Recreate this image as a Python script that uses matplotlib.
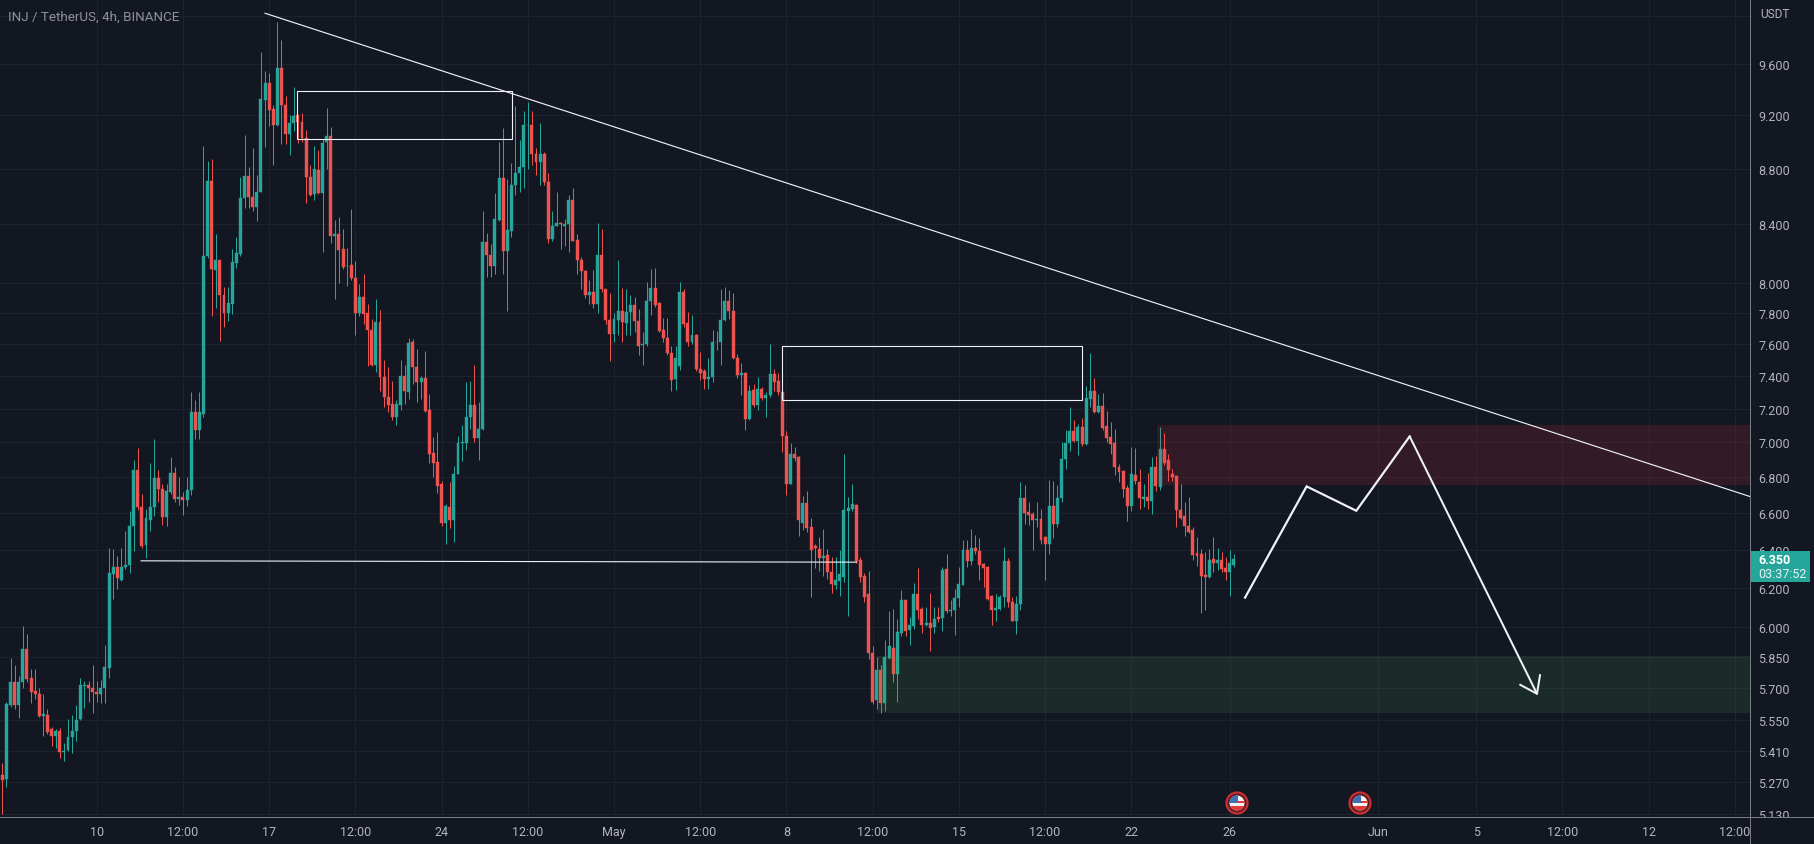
import numpy as np
import matplotlib
matplotlib.use("Agg")
import matplotlib.pyplot as plt
from matplotlib.patches import Rectangle, Circle
from matplotlib.transforms import Bbox

# --------------------------
# Candles, 4h bars
# --------------------------

opens = [
    5.30, 5.285, 5.62, 5.73, 5.62, 5.73, 5.89, 5.75, 5.685, 5.67,
    5.57, 5.575, 5.51, 5.478, 5.50, 5.405, 5.413, 5.47, 5.50, 5.553,
    5.71, 5.715, 5.70, 5.68, 5.67, 5.70, 5.795, 6.27, 6.31, 6.24,
    6.305, 6.32, 6.53, 6.84, 6.63, 6.425, 6.56, 6.63, 6.795, 6.73,
    6.575, 6.715, 6.825, 6.675, 6.69, 6.67, 6.725, 7.18, 7.07, 7.17,
    8.18, 8.71, 8.085, 8.15, 7.92, 7.80, 7.86, 8.135, 8.195, 8.585,
    8.745, 8.59, 8.525, 8.63, 9.32, 9.45, 9.25, 9.13, 9.57, 9.28,
    9.06, 9.14, 9.20, 9.15, 9.03, 8.74, 8.615, 8.79, 8.62, 9.00,
    9.04, 8.32, 8.335, 8.225, 8.115, 8.12, 8.03, 7.80, 7.905, 7.80,
    7.69, 7.465, 7.74, 7.39, 7.27, 7.23, 7.15, 7.225, 7.40, 7.30,
    7.61, 7.455, 7.36, 7.385, 7.19, 6.94, 6.885, 6.76, 6.545, 6.63,
    6.56, 6.82, 6.995, 6.995, 7.15, 7.225, 7.025, 7.08, 8.275, 8.19,
    8.115, 8.43, 8.73, 8.215, 8.355, 8.68, 8.77, 8.81, 9.125, 9.13,
    8.91, 8.85, 8.905, 8.70, 8.30, 8.39, 8.41, 8.39, 8.405, 8.575,
    8.29, 8.155, 8.08, 7.915, 7.94, 7.855, 8.185, 7.96, 7.755, 7.665,
    7.755, 7.815, 7.735, 7.805, 7.85, 7.75, 7.595, 7.60, 7.88, 7.965,
    7.865, 7.69, 7.64, 7.545, 7.38, 7.46, 7.94, 7.735, 7.61, 7.66,
    7.445, 7.43, 7.38, 7.39, 7.61, 7.61, 7.755, 7.875, 7.81, 7.51,
    7.405, 7.415, 7.14, 7.315, 7.225, 7.32, 7.265, 7.28, 7.41, 7.37,
    7.30, 7.035, 6.76, 6.935, 6.915, 6.545, 6.655, 6.52, 6.42, 6.405,
    6.355, 6.37, 6.28, 6.215, 6.235, 6.255, 6.61, 6.62, 6.645, 6.345,
    6.26, 6.165, 5.87, 5.645, 5.785, 5.63, 5.845, 5.895, 5.77, 5.97,
    6.135, 5.985, 6.005, 6.165, 6.09, 6.01, 6.02, 5.998, 6.05, 6.045,
    6.295, 6.08, 6.085, 6.145, 6.215, 6.40, 6.34, 6.41, 6.39, 6.325,
    6.31, 6.155, 6.085, 6.09, 6.15, 6.34, 6.125, 6.03, 6.115, 6.68,
    6.605, 6.595, 6.56, 6.565, 6.465, 6.43, 6.64, 6.54, 6.68, 6.905,
    6.995, 7.065, 7.01, 7.09, 6.99, 7.26, 7.305, 7.18, 7.215, 7.095,
    7.03, 6.995, 6.855, 6.835, 6.74, 6.64, 6.81, 6.77, 6.675, 6.685,
    6.665, 6.855, 6.745, 6.96, 6.895, 6.82, 6.805, 6.615, 6.58, 6.525,
    6.505, 6.38, 6.375, 6.265, 6.255, 6.35, 6.33, 6.345, 6.30, 6.28,
    6.32,
]

closes = [
    5.28, 5.627, 5.73, 5.62, 5.73, 5.89, 5.745, 5.68, 5.67, 5.57,
    5.58, 5.495, 5.475, 5.50, 5.405, 5.41, 5.47, 5.50, 5.55, 5.715,
    5.715, 5.70, 5.68, 5.67, 5.70, 5.80, 6.275, 6.31, 6.25, 6.305,
    6.32, 6.53, 6.84, 6.63, 6.42, 6.57, 6.63, 6.795, 6.73, 6.575,
    6.72, 6.825, 6.675, 6.69, 6.67, 6.725, 7.18, 7.07, 7.18, 8.18,
    8.71, 8.09, 8.15, 7.92, 7.80, 7.865, 8.14, 8.20, 8.585, 8.745,
    8.59, 8.525, 8.63, 9.33, 9.45, 9.24, 9.13, 9.57, 9.28, 9.06,
    9.14, 9.195, 9.15, 9.03, 8.74, 8.61, 8.80, 8.62, 8.99, 9.04,
    8.32, 8.335, 8.22, 8.105, 8.115, 8.03, 7.80, 7.905, 7.795, 7.69,
    7.465, 7.74, 7.39, 7.27, 7.22, 7.15, 7.23, 7.40, 7.305, 7.605,
    7.455, 7.36, 7.385, 7.185, 6.93, 6.88, 6.75, 6.545, 6.635, 6.56,
    6.82, 6.995, 7.0, 7.15, 7.225, 7.025, 7.08, 8.275, 8.19, 8.115,
    8.435, 8.73, 8.215, 8.36, 8.68, 8.77, 8.81, 9.13, 9.13, 8.91,
    8.85, 8.905, 8.70, 8.30, 8.39, 8.41, 8.40, 8.405, 8.575, 8.285,
    8.155, 8.08, 7.915, 7.94, 7.86, 8.185, 7.96, 7.755, 7.665, 7.76,
    7.81, 7.74, 7.805, 7.85, 7.75, 7.59, 7.60, 7.88, 7.965, 7.85,
    7.685, 7.635, 7.54, 7.375, 7.51, 7.94, 7.73, 7.61, 7.655, 7.44,
    7.42, 7.38, 7.39, 7.61, 7.615, 7.755, 7.875, 7.81, 7.51, 7.405,
    7.415, 7.14, 7.31, 7.225, 7.32, 7.265, 7.28, 7.41, 7.365, 7.30,
    7.035, 6.76, 6.935, 6.91, 6.56, 6.655, 6.515, 6.40, 6.41, 6.355,
    6.365, 6.28, 6.22, 6.24, 6.27, 6.615, 6.625, 6.65, 6.34, 6.255,
    6.15, 5.87, 5.635, 5.785, 5.63, 5.85, 5.905, 5.77, 5.975, 6.135,
    5.98, 6.01, 6.165, 6.085, 6.01, 6.02, 5.995, 6.04, 6.04, 6.29,
    6.08, 6.085, 6.145, 6.22, 6.40, 6.34, 6.41, 6.39, 6.32, 6.30,
    6.14, 6.085, 6.095, 6.15, 6.34, 6.125, 6.03, 6.115, 6.68, 6.60,
    6.59, 6.56, 6.565, 6.45, 6.43, 6.64, 6.54, 6.68, 6.905, 6.995,
    7.065, 7.01, 7.09, 6.99, 7.265, 7.305, 7.18, 7.215, 7.085, 7.025,
    6.99, 6.855, 6.83, 6.735, 6.64, 6.82, 6.775, 6.68, 6.685, 6.665,
    6.855, 6.75, 6.96, 6.88, 6.84, 6.80, 6.615, 6.57, 6.525, 6.495,
    6.37, 6.365, 6.26, 6.255, 6.345, 6.33, 6.345, 6.295, 6.28, 6.33,
    6.35,
]

highs = [
    5.355, 5.635, 5.845, 5.81, 5.76, 6.005, 5.965, 5.79, 5.79, 5.70,
    5.67, 5.60, 5.52, 5.51, 5.515, 5.445, 5.553, 5.575, 5.62, 5.75,
    5.735, 5.735, 5.81, 5.735, 5.74, 5.91, 6.41, 6.405, 6.365, 6.41,
    6.50, 6.61, 6.90, 6.965, 6.705, 6.62, 6.88, 7.02, 6.84, 6.76,
    6.76, 6.915, 6.855, 6.80, 6.715, 6.80, 7.30, 7.25, 7.30, 8.97,
    8.855, 8.87, 8.33, 8.15, 7.97, 7.97, 8.23, 8.31, 8.74, 9.05,
    8.81, 8.95, 8.755, 9.70, 9.55, 9.53, 9.28, 9.95, 9.80, 9.35,
    9.20, 9.42, 9.205, 9.22, 9.09, 8.83, 8.97, 8.94, 9.02, 9.26,
    9.11, 8.43, 8.45, 8.37, 8.235, 8.51, 8.145, 7.99, 8.06, 7.86,
    7.76, 7.89, 7.82, 7.50, 7.455, 7.37, 7.25, 7.50, 7.465, 7.64,
    7.63, 7.565, 7.40, 7.555, 7.29, 7.03, 7.06, 6.78, 6.65, 6.77,
    6.865, 7.04, 7.10, 7.36, 7.37, 7.465, 7.24, 8.49, 8.34, 8.26,
    8.62, 9.0, 9.10, 8.72, 8.84, 9.27, 9.01, 9.23, 9.30, 9.235,
    8.95, 9.14, 8.92, 8.765, 8.49, 8.63, 8.415, 8.44, 8.61, 8.66,
    8.33, 8.17, 8.085, 8.015, 8.085, 8.41, 8.37, 7.96, 7.93, 7.80,
    8.155, 7.965, 7.955, 7.92, 7.905, 7.825, 7.675, 8.005, 8.09, 8.095,
    7.87, 7.765, 7.77, 7.59, 7.59, 8.005, 7.96, 7.805, 7.785, 7.665,
    7.55, 7.44, 7.51, 7.69, 7.685, 7.96, 7.97, 7.95, 7.93, 7.535,
    7.48, 7.425, 7.345, 7.35, 7.39, 7.33, 7.30, 7.60, 7.445, 7.42,
    7.335, 7.065, 6.995, 6.97, 6.92, 6.695, 6.72, 6.57, 6.43, 6.47,
    6.51, 6.405, 6.36, 6.36, 6.40, 6.935, 6.69, 6.76, 6.65, 6.36,
    6.275, 6.285, 5.905, 5.85, 5.81, 5.935, 6.08, 6.09, 6.04, 6.185,
    6.135, 6.05, 6.225, 6.30, 6.10, 6.10, 6.17, 6.10, 6.10, 6.305,
    6.375, 6.135, 6.19, 6.305, 6.45, 6.45, 6.51, 6.48, 6.46, 6.33,
    6.315, 6.16, 6.165, 6.16, 6.415, 6.355, 6.15, 6.155, 6.77, 6.755,
    6.66, 6.605, 6.66, 6.62, 6.475, 6.785, 6.78, 6.755, 7.0, 7.07,
    7.21, 7.135, 7.11, 7.145, 7.34, 7.54, 7.385, 7.29, 7.295, 7.185,
    7.12, 7.08, 6.875, 6.84, 6.755, 6.97, 6.965, 6.845, 6.76, 6.825,
    6.915, 6.92, 7.09, 7.055, 6.935, 6.845, 6.81, 6.76, 6.66, 6.69,
    6.52, 6.47, 6.405, 6.385, 6.405, 6.47, 6.41, 6.385, 6.36, 6.40,
    6.375,
]

lows = [
    5.13, 5.25, 5.61, 5.60, 5.56, 5.70, 5.73, 5.63, 5.65, 5.565,
    5.475, 5.485, 5.43, 5.42, 5.375, 5.365, 5.41, 5.40, 5.455, 5.55,
    5.605, 5.635, 5.585, 5.635, 5.63, 5.63, 5.75, 6.14, 6.19, 6.235,
    6.295, 6.275, 6.39, 6.615, 6.41, 6.355, 6.50, 6.58, 6.66, 6.535,
    6.53, 6.705, 6.66, 6.645, 6.585, 6.635, 6.70, 7.02, 7.02, 7.15,
    8.165, 7.78, 7.83, 7.62, 7.71, 7.75, 7.79, 8.10, 8.18, 8.515,
    8.515, 8.49, 8.42, 8.63, 8.96, 9.12, 8.83, 9.12, 8.98, 8.98,
    8.90, 9.08, 8.99, 9.00, 8.55, 8.60, 8.57, 8.615, 8.21, 8.80,
    8.27, 7.89, 8.00, 8.09, 7.98, 8.02, 7.66, 7.78, 7.73, 7.46,
    7.46, 7.425, 7.31, 7.21, 7.18, 7.13, 7.10, 7.19, 7.23, 7.26,
    7.35, 7.24, 7.26, 7.18, 6.88, 6.80, 6.71, 6.53, 6.43, 6.515,
    6.44, 6.82, 6.89, 6.955, 7.08, 7.0, 6.90, 7.07, 8.04, 8.04,
    8.06, 8.42, 8.06, 7.815, 8.31, 8.61, 8.63, 8.66, 8.80, 8.83,
    8.75, 8.68, 8.68, 8.27, 8.28, 8.385, 8.23, 8.25, 8.205, 8.28,
    8.06, 7.96, 7.895, 7.86, 7.83, 7.80, 7.94, 7.73, 7.49, 7.61,
    7.655, 7.61, 7.66, 7.655, 7.675, 7.53, 7.465, 7.59, 7.785, 7.84,
    7.675, 7.61, 7.53, 7.305, 7.315, 7.435, 7.71, 7.59, 7.60, 7.43,
    7.375, 7.32, 7.32, 7.365, 7.56, 7.465, 7.75, 7.76, 7.505, 7.385,
    7.28, 7.07, 7.135, 7.21, 7.19, 7.25, 7.15, 7.27, 7.31, 7.28,
    6.945, 6.70, 6.76, 6.89, 6.475, 6.505, 6.495, 6.15, 6.30, 6.285,
    6.26, 6.245, 6.17, 6.195, 6.155, 6.23, 6.055, 6.61, 6.33, 6.23,
    6.125, 5.84, 5.625, 5.60, 5.585, 5.59, 5.84, 5.73, 5.635, 5.955,
    5.955, 5.91, 5.99, 6.04, 5.97, 6.005, 5.88, 5.97, 6.025, 5.98,
    6.07, 6.055, 5.96, 6.10, 6.215, 6.31, 6.32, 6.375, 6.24, 6.205,
    6.135, 6.01, 6.03, 6.085, 6.10, 6.10, 6.03, 5.965, 6.085, 6.54,
    6.535, 6.40, 6.52, 6.43, 6.24, 6.375, 6.46, 6.52, 6.66, 6.845,
    6.95, 7.005, 6.925, 6.98, 6.985, 7.21, 7.175, 7.175, 7.07, 7.005,
    6.935, 6.81, 6.77, 6.69, 6.555, 6.61, 6.76, 6.62, 6.63, 6.62,
    6.595, 6.72, 6.725, 6.87, 6.78, 6.78, 6.52, 6.565, 6.475, 6.49,
    6.345, 6.315, 6.07, 6.085, 6.25, 6.28, 6.29, 6.28, 6.24, 6.155,
    6.31,
]

# --------------------------
# Axis ticks
# --------------------------

price_ticks = [9.6, 9.2, 8.8, 8.4, 8.0, 7.8, 7.6, 7.4, 7.2, 7.0, 6.8, 6.6,
               6.4, 6.2, 6.0, 5.85, 5.7, 5.55, 5.41, 5.27, 5.13]
price_labels = ["9.600", "9.200", "8.800", "8.400", "8.000", "7.800", "7.600",
                "7.400", "7.200", "7.000", "6.800", "6.600", "6.400", "6.200",
                "6.000", "5.850", "5.700", "5.550", "5.410", "5.270", "5.130"]

time_ticks = [23, 44, 65, 86, 107, 128, 149, 170, 191, 212, 233, 254, 275, 299,
              335, 359, 380, 401, 422]
time_labels = ["10", "12:00", "17", "12:00", "24", "12:00", "May", "12:00", "8",
               "12:00", "15", "12:00", "22", "26", "Jun", "5", "12:00", "12",
               "12:00"]

# --------------------------
# Drawings on the chart
# --------------------------

trend_bars = [64, 425.7]
trend_prices = [10.02, 6.69]

box1_bars = [71.8, 124.1]
box1_prices = [9.02, 9.39]
box2_bars = [190.0, 262.9]
box2_prices = [7.255, 7.59]

flat_bars = [33.8, 208.1]
flat_prices = [6.34, 6.333]

red_zone_start = 281.3
red_zone_prices = [6.757, 7.105]
green_zone_start = 213
green_zone_prices = [5.585, 5.855]

path_bars = [302.7, 317.7, 329.8, 342.8, 374.0]
path_prices = [6.148, 6.747, 6.611, 7.035, 5.666]

BG = "#131722"
GRID = "#1e222d"
UP = "#26a69a"
DOWN = "#ef5350"
AXIS = "#787b86"
TEXT = "#b2b5be"
WHITE = "#f0f3fa"

plt.rcParams["font.family"] = ["Roboto", "DejaVu Sans"]

W, H = 1814, 845
PX = 0.72

fig = plt.figure(figsize=(W / 100, H / 100), dpi=100, facecolor=BG)
ax = fig.add_axes([0, (H - 818) / H, 1750 / W, 818 / H], facecolor=BG)

ax.set_yscale("log")
ax.set_xlim(-0.56, 425.7)
ax.set_ylim(5.118, 10.14)

# --------------------------
# Grid and ticks
# --------------------------

ax.yaxis.tick_right()
ax.set_yticks(price_ticks)
ax.set_yticklabels(price_labels)
ax.minorticks_off()
ax.set_xticks(time_ticks)
ax.set_xticklabels(time_labels)
ax.tick_params(axis="y", length=0, pad=5.8, labelsize=9, labelcolor=TEXT)
ax.tick_params(axis="x", length=0, pad=5.5, labelsize=9, labelcolor=TEXT)
ax.grid(True, color=GRID, linewidth=1 * PX, zorder=0)
ax.axhline(10.0, color=GRID, linewidth=1 * PX, zorder=0)
ax.set_axisbelow(True)

for spine in ax.spines.values():
    spine.set_visible(False)

# the lowest price label is cut by the time axis
for label in ax.get_yticklabels():
    if label.get_text() == "5.130":
        label.set_clip_on(True)
        label.set_clip_box(Bbox([[1700, H - 818], [W, H]]))

# --------------------------
# Candles
# --------------------------

bars = np.arange(len(opens))
opens = np.array(opens)
closes = np.array(closes)
highs = np.array(highs)
lows = np.array(lows)
colors = np.where(closes >= opens, UP, DOWN)

ax.vlines(bars, lows, highs, colors=colors, linewidth=1 * PX, zorder=3)

ax.bar(
    bars,
    np.abs(closes - opens),
    bottom=np.minimum(opens, closes),
    width=0.72,
    color=colors,
    edgecolor=colors,
    linewidth=0.3,
    zorder=4
)

# --------------------------
# Zones, boxes and lines
# --------------------------

ax.axhspan(
    red_zone_prices[0], red_zone_prices[1],
    xmin=(red_zone_start + 0.56) / 426.26,
    color="#f23645", alpha=0.14, linewidth=0, zorder=5
)

ax.axhspan(
    green_zone_prices[0], green_zone_prices[1],
    xmin=(green_zone_start + 0.56) / 426.26,
    color="#4caf50", alpha=0.14, linewidth=0, zorder=5
)

for box_bars, box_prices in [(box1_bars, box1_prices), (box2_bars, box2_prices)]:
    ax.add_patch(Rectangle(
        (box_bars[0], box_prices[0]),
        box_bars[1] - box_bars[0],
        box_prices[1] - box_prices[0],
        fill=False,
        edgecolor=WHITE,
        linewidth=1.1 * PX,
        zorder=6
    ))

ax.plot(trend_bars, trend_prices, color=WHITE, linewidth=1.15 * PX, zorder=6)
ax.plot(flat_bars, flat_prices, color=WHITE, linewidth=1.1 * PX, zorder=6)

ax.plot(
    path_bars[:-1], path_prices[:-1],
    color=WHITE, linewidth=2.2 * PX, solid_joinstyle="miter", zorder=6
)

ax.annotate(
    "",
    xy=(path_bars[-1], path_prices[-1]),
    xytext=(path_bars[-2], path_prices[-2]),
    arrowprops=dict(
        arrowstyle="->,head_length=0.7,head_width=0.5",
        color=WHITE,
        linewidth=2.0 * PX,
        mutation_scale=16,
        shrinkA=0,
        shrinkB=0
    ),
    zorder=6
)

# --------------------------
# Overlay in pixels: axes lines, price badge, icons, titles
# --------------------------

over = fig.add_axes([0, 0, 1, 1], zorder=10)
over.set_xlim(0, W)
over.set_ylim(H, 0)
over.axis("off")
over.patch.set_alpha(0)

over.plot([0, W], [818, 818], color=AXIS, linewidth=1 * PX)
over.plot([1750, 1750], [0, H], color=AXIS, linewidth=1 * PX)

over.add_patch(Rectangle((1750, 552), 60, 31, facecolor=UP, edgecolor="none"))
over.text(1758, 561, "6.350", color="white", fontsize=9, fontweight="bold",
          va="center", ha="left")
over.text(1758, 575, "03:37:52", color="#e3f4f2", fontsize=9,
          va="center", ha="left")

over.text(1760, 14, "USDT", color=TEXT, fontsize=8.6, va="center", ha="left")
over.text(8, 17, "INJ / TetherUS, 4h, BINANCE", color="#8f929b", fontsize=9.6,
          va="center", ha="left")


def draw_flag(cx, cy):
    """
    Small round US flag event marker.
    """

    over.add_patch(Circle((cx, cy), 10.5, facecolor="#5c1a20", edgecolor="#c62f33", linewidth=1.6))

    inner = Circle((cx, cy), 7.5, facecolor="#f4f4f4", edgecolor="none")
    over.add_patch(inner)

    for top, height in [(cy - 2, 2.4), (cy + 2.6, 2.4), (cy + 5, 2.6)]:
        stripe = Rectangle((cx - 8, top), 16, height, facecolor="#e53935", edgecolor="none")
        over.add_patch(stripe)
        stripe.set_clip_path(inner)

    canton = Rectangle((cx - 8, cy - 8), 9, 8, facecolor="#3d6fb4", edgecolor="none")
    over.add_patch(canton)
    canton.set_clip_path(inner)


draw_flag(1237, 804)
draw_flag(1360, 804)

fig.savefig("out.png", dpi=100, facecolor=BG)
